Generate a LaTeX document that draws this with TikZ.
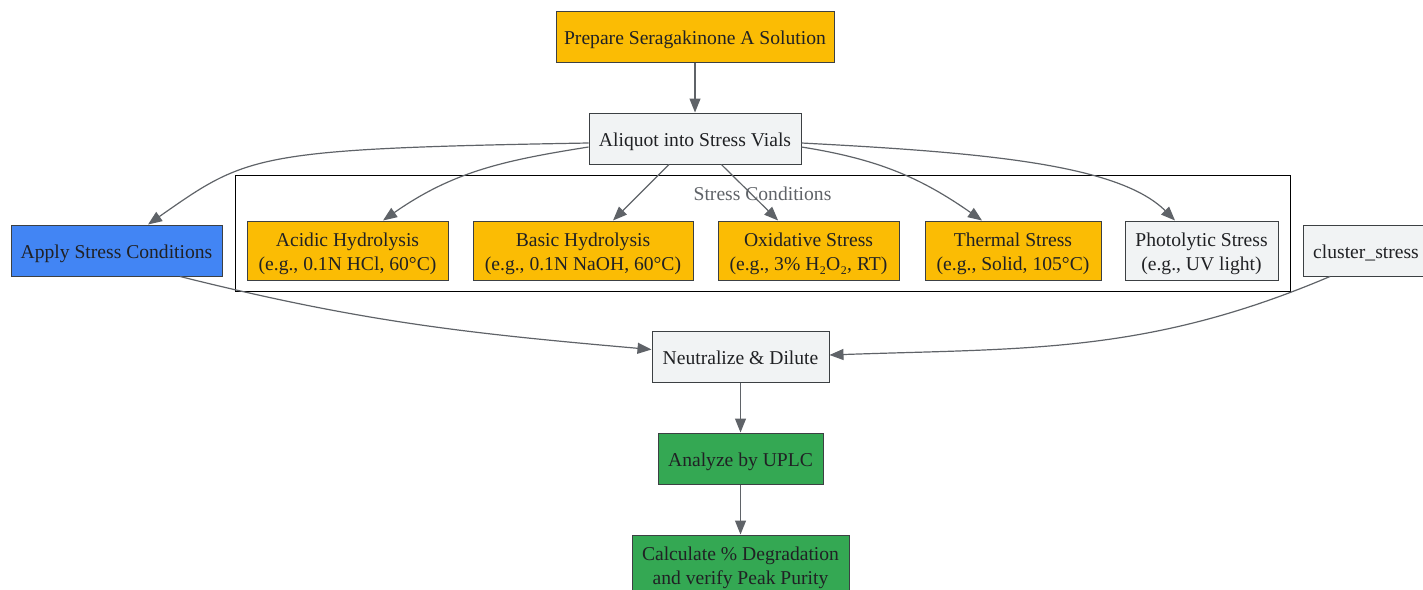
\documentclass[tikz,border=0pt]{standalone}
\usepackage{fontspec}
\setmainfont{Liberation Serif}
\usepackage{tikz}
\usetikzlibrary{arrows.meta}
\definecolor{gyellow}{HTML}{FBBC04}
\definecolor{gblue}{HTML}{4285F4}
\definecolor{ggreen}{HTML}{34A853}
\definecolor{ggray}{HTML}{F1F3F4}
\definecolor{gline}{HTML}{3C4043}
\definecolor{gedge}{HTML}{5F6368}
\definecolor{gtext}{HTML}{202124}

\begin{document}
\begin{tikzpicture}[x=1pt,y=-1pt,
		every node/.style={font=\fontsize{19.6}{24}\selectfont,text=gtext,align=center,inner sep=2pt,
			execute at begin node={\rule[-4.5pt]{0pt}{24pt}}},
		box/.style={draw=gline,line width=1pt,minimum height=51pt},
		tall/.style={box,minimum height=59pt,execute at begin node={\rule{0pt}{43.5pt}}}]
		\useasboundingbox (0,0) rectangle (1423,589);
		\clip (0,0) rectangle (1423,589);
		% cluster
		\node[draw=black,line width=1pt,minimum width=1055pt,minimum height=116pt] (K) at (762.5,233) {};
		\node[text=gedge] (KL) at (762.5,193) {Stress Conditions};
		%
		\node[box,fill=gyellow,minimum width=278pt] (P) at (695,36.5) {Prepare Seragakinone A Solution};
		\node[box,fill=ggray,minimum width=212pt] (Q) at (695,138.5) {Aliquot into Stress Vials};
		\node[box,fill=gblue,minimum width=211pt] (S) at (116.5,250.5) {Apply Stress Conditions};
		\node[tall,fill=gyellow,minimum width=201pt] (H1) at (347.5,250.5) {Acidic Hydrolysis\\(e.g., 0.1N HCl, 60°C)};
		\node[tall,fill=gyellow,minimum width=220pt] (H2) at (583,250.5) {Basic Hydrolysis\\(e.g., 0.1N NaOH, 60°C)};
		\node[tall,fill=gyellow,minimum width=181pt] (H3) at (808.5,250.5) {Oxidative Stress\\(e.g., 3\% H₂O₂, RT)};
		\node[tall,fill=gyellow,minimum width=176pt] (H4) at (1013,250.5) {Thermal Stress\\(e.g., Solid, 105°C)};
		\node[tall,fill=ggray,minimum width=153pt] (H5) at (1201.5,250.5) {Photolytic Stress\\(e.g., UV light)};
		\node[box,fill=ggray,minimum width=126pt] (X) at (1366,250.5) {cluster\_stress};
		\node[box,fill=ggray,minimum width=177pt] (N) at (740.5,356.5) {Neutralize \& Dilute};
		\node[box,fill=ggreen,minimum width=165pt] (U) at (740.5,458.5) {Analyze by UPLC};
		\node[tall,fill=ggreen,minimum width=217pt] (D) at (740.5,564.5) {Calculate \% Degradation\\and verify Peak Purity};
		%
		\path[->,gedge,line width=1.2pt,>={Triangle[length=14pt,width=11pt]}]
		(P) edge (Q)
		([yshift=-4.5pt]Q.west) edge[out=181,in=35,out distance=335pt,in distance=122pt] ([xshift=31.5pt]S.north)
		([yshift=-8.5pt]Q.west) edge[out=189,in=35] ([xshift=35.5pt]H1.north)
		(Q) edge (H2)
		(Q) edge (H3)
		([yshift=-8.5pt]Q.east) edge[out=-9,in=145] ([xshift=-31pt]H4.north)
		([yshift=-4.5pt]Q.east) edge[out=-3,in=135,out distance=180pt,in distance=80pt] ([xshift=-26.5pt]H5.north)
		([xshift=63.5pt]S.south) edge[out=-14,in=175] ([yshift=7pt]N.west)
		([xshift=-36pt]X.south) edge[out=203,in=2] ([yshift=1.5pt]N.east)
		(N) edge (U)
		(U) edge (D);
\end{tikzpicture}
\end{document}
